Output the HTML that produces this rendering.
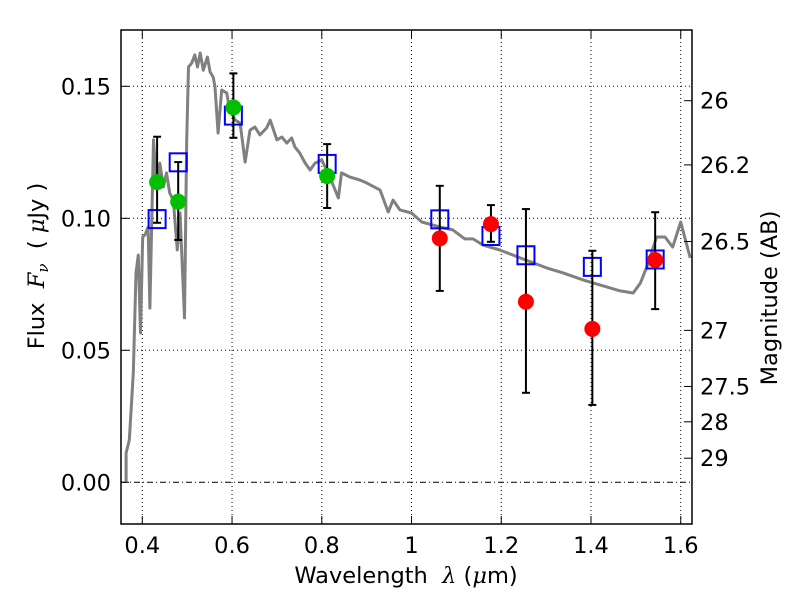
<!DOCTYPE html>
<html><head><meta charset="utf-8"><style>
html,body{margin:0;padding:0;background:#fff;}
svg{display:block;font-family:"DejaVu Sans","Liberation Sans",sans-serif;}
</style></head><body>
<svg id="chart" width="800" height="600" viewBox="0 0 800 600" xmlns="http://www.w3.org/2000/svg">
<rect x="0" y="0" width="800" height="600" fill="#fff"/>
<g id="grid"></g>
<g id="spec"></g>
<g id="marks"></g>
<g id="axes"></g>
</svg>
<script>
const specLam=[0.364,0.364,0.371,0.380,0.386,0.391,0.396,0.401,0.406,0.413,0.417,0.425,0.432,0.439,0.447,0.454,0.461,0.469,0.478,0.484,0.494,0.499,0.503,0.510,0.517,0.523,0.529,0.536,0.545,0.551,0.558,0.562,0.569,0.577,0.588,0.595,0.607,0.618,0.629,0.640,0.651,0.662,0.677,0.685,0.700,0.711,0.722,0.733,0.740,0.751,0.763,0.774,0.785,0.800,0.818,0.837,0.844,0.863,0.885,0.900,0.930,0.948,0.959,0.974,1.000,1.023,1.063,1.092,1.119,1.137,1.159,1.197,1.242,1.301,1.338,1.383,1.435,1.465,1.494,1.510,1.528,1.546,1.565,1.582,1.600,1.621];
const specFlux=[0.000,0.0111,0.0160,0.0414,0.0793,0.0861,0.0566,0.0929,0.0937,0.0967,0.0660,0.1297,0.1119,0.1209,0.1119,0.1172,0.1096,0.1069,0.0880,0.1020,0.0623,0.1297,0.1573,0.1588,0.1619,0.1573,0.1626,0.1561,0.1611,0.1554,0.1535,0.1497,0.1323,0.1486,0.1475,0.1410,0.1372,0.1361,0.1213,0.1334,0.1346,0.1316,0.1342,0.1372,0.1297,0.1308,0.1285,0.1304,0.1270,0.1247,0.1209,0.1183,0.1209,0.1221,0.1156,0.1077,0.1172,0.1156,0.1145,0.1134,0.1107,0.1024,0.1069,0.1032,0.1020,0.0986,0.0967,0.0956,0.0922,0.0922,0.0899,0.0880,0.0850,0.0812,0.0793,0.0766,0.0740,0.0725,0.0717,0.0755,0.0831,0.0929,0.0929,0.0891,0.0986,0.0850];
const greenLam=[0.433,0.480,0.603,0.812];
const greenFlux=[0.1137,0.1063,0.1420,0.1160];
const greenHi=[0.1309,0.1213,0.1549,0.1281];
const greenLo=[0.0983,0.0918,0.1305,0.1039];
const redLam=[1.063,1.177,1.255,1.403,1.543];
const redFlux=[0.0924,0.0978,0.0684,0.0581,0.0842];
const redHi=[0.1123,0.1050,0.1035,0.0877,0.1023];
const redLo=[0.0725,0.0911,0.0339,0.0293,0.0656];
const modelLam=[0.433,0.480,0.603,0.812,1.063,1.177,1.255,1.403,1.543];
const modelFlux=[0.0997,0.1212,0.1389,0.1206,0.0996,0.0933,0.0860,0.0816,0.0844];
const xTicks=[0.4,0.6,0.8,1.0,1.2,1.4,1.6];
const xTickLabels=["0.4","0.6","0.8","1","1.2","1.4","1.6"];
const yTicks=[0.0,0.05,0.10,0.15];
const yTickLabels=["0.00","0.05","0.10","0.15"];
const magTicks=[26,26.2,26.5,27,27.5,28,29];
const magTickLabels=["26","26.2","26.5","27","27.5","28","29"];

const L=121,R=692,T=30,B=524;
function X(v){return 142.3+(v-0.4)*448.7;}
function Y(v){return 482.3-v*2640;}
function magToFlux(m){return Math.pow(10,(23.9-m)/2.5);}
const NS="http://www.w3.org/2000/svg";
function mk(tag,attrs,parent){const e=document.createElementNS(NS,tag);for(const k in attrs)e.setAttribute(k,attrs[k]);parent.appendChild(e);return e;}
const grid=document.getElementById('grid'),spec=document.getElementById('spec'),marks=document.getElementById('marks'),axes=document.getElementById('axes');

xTicks.forEach((t,i)=>{
 const l=mk('line',{x1:X(t),x2:X(t),y1:T,y2:B,stroke:'#000','stroke-width':1,'stroke-dasharray':'1,3'},grid);
 
 
});
yTicks.forEach((t,i)=>{
 const l=mk('line',{x1:L,x2:R,y1:Y(t),y2:Y(t),stroke:'#000','stroke-width':1,'stroke-dasharray':t===0?'6,3,1,3':'1,3'},grid);
 
 
});

let d='';
specLam.forEach((v,i)=>{d+=(i?'L':'M')+X(v).toFixed(1)+','+Y(specFlux[i]).toFixed(1);});
const sp=mk('path',{d:d,fill:'none',stroke:'#808080','stroke-width':3,'stroke-linejoin':'round'},spec);



modelLam.forEach((v,i)=>{
 const r=mk('rect',{x:X(v)-8.5,y:Y(modelFlux[i])-9,width:17,height:18,fill:'none',stroke:'#0000ff','stroke-width':2},marks);
 
 
});
function errbar(x,lo,hi){
 const g=mk('g',{},marks);
 
 
 mk('line',{x1:X(x),x2:X(x),y1:Y(lo),y2:Y(hi),stroke:'#000','stroke-width':2},g);
 mk('line',{x1:X(x)-4,x2:X(x)+4,y1:Y(lo),y2:Y(lo),stroke:'#000','stroke-width':2},g);
 mk('line',{x1:X(x)-4,x2:X(x)+4,y1:Y(hi),y2:Y(hi),stroke:'#000','stroke-width':2},g);
}
greenLam.forEach((v,i)=>{
 errbar(v,greenLo[i],greenHi[i]);
 const c=mk('circle',{cx:X(v),cy:Y(greenFlux[i]),r:8,fill:'#00c000'},marks);
 
 
});
redLam.forEach((v,i)=>{
 errbar(v,redLo[i],redHi[i]);
 const c=mk('circle',{cx:X(v),cy:Y(redFlux[i]),r:8,fill:'#ff0000'},marks);
 
 
});

const fr=mk('rect',{x:L,y:T,width:R-L,height:B-T,fill:'none',stroke:'#000','stroke-width':1.5},axes);


xTicks.forEach((t,i)=>{
 mk('line',{x1:X(t),x2:X(t),y1:B,y2:B-8,stroke:'#000','stroke-width':1},axes);
 mk('line',{x1:X(t),x2:X(t),y1:T,y2:T+8,stroke:'#000','stroke-width':1},axes);
 const tx=mk('text',{x:X(t),y:B+29,'font-size':22.5,'text-anchor':'middle'},axes);
 tx.textContent=xTickLabels[i];
 
 
});
yTicks.forEach((t,i)=>{
 mk('line',{x1:L,x2:L+8,y1:Y(t),y2:Y(t),stroke:'#000','stroke-width':1},axes);
 const tx=mk('text',{x:111,y:Y(t)+8,'font-size':22.5,'text-anchor':'end'},axes);
 tx.textContent=yTickLabels[i];
 
 
});
magTicks.forEach((m,i)=>{
 const y=Y(magToFlux(m));
 mk('line',{x1:R,x2:R-8,y1:y,y2:y,stroke:'#000','stroke-width':1},axes);
 const tx=mk('text',{x:700,y:y+8,'font-size':22.5,'text-anchor':'start'},axes);
 tx.textContent=magTickLabels[i];
 
 
});
</script>
<svg style="position:absolute;left:0;top:0" width="800" height="600" xmlns="http://www.w3.org/2000/svg" font-family="DejaVu Sans, Liberation Sans, sans-serif">
<text x="406" y="583" font-size="22.5" text-anchor="middle" style="white-space:pre">Wavelength  <tspan font-style="italic" font-family="DejaVu Serif, serif">λ</tspan> (<tspan font-style="italic" font-family="DejaVu Serif, serif">μ</tspan>m)</text>
<text transform="translate(44,266) rotate(-90)" font-size="22.5" text-anchor="middle" style="white-space:pre">Flux  <tspan font-style="italic" font-family="DejaVu Serif, serif">F<tspan font-size="15" dy="4">ν</tspan></tspan><tspan dy="-4">  ( </tspan><tspan font-style="italic" font-family="DejaVu Serif, serif">μ</tspan>Jy )</text>
<text transform="translate(777,298) rotate(-90)" font-size="22.5" text-anchor="middle">Magnitude (AB)</text>
</svg>
</body></html>
